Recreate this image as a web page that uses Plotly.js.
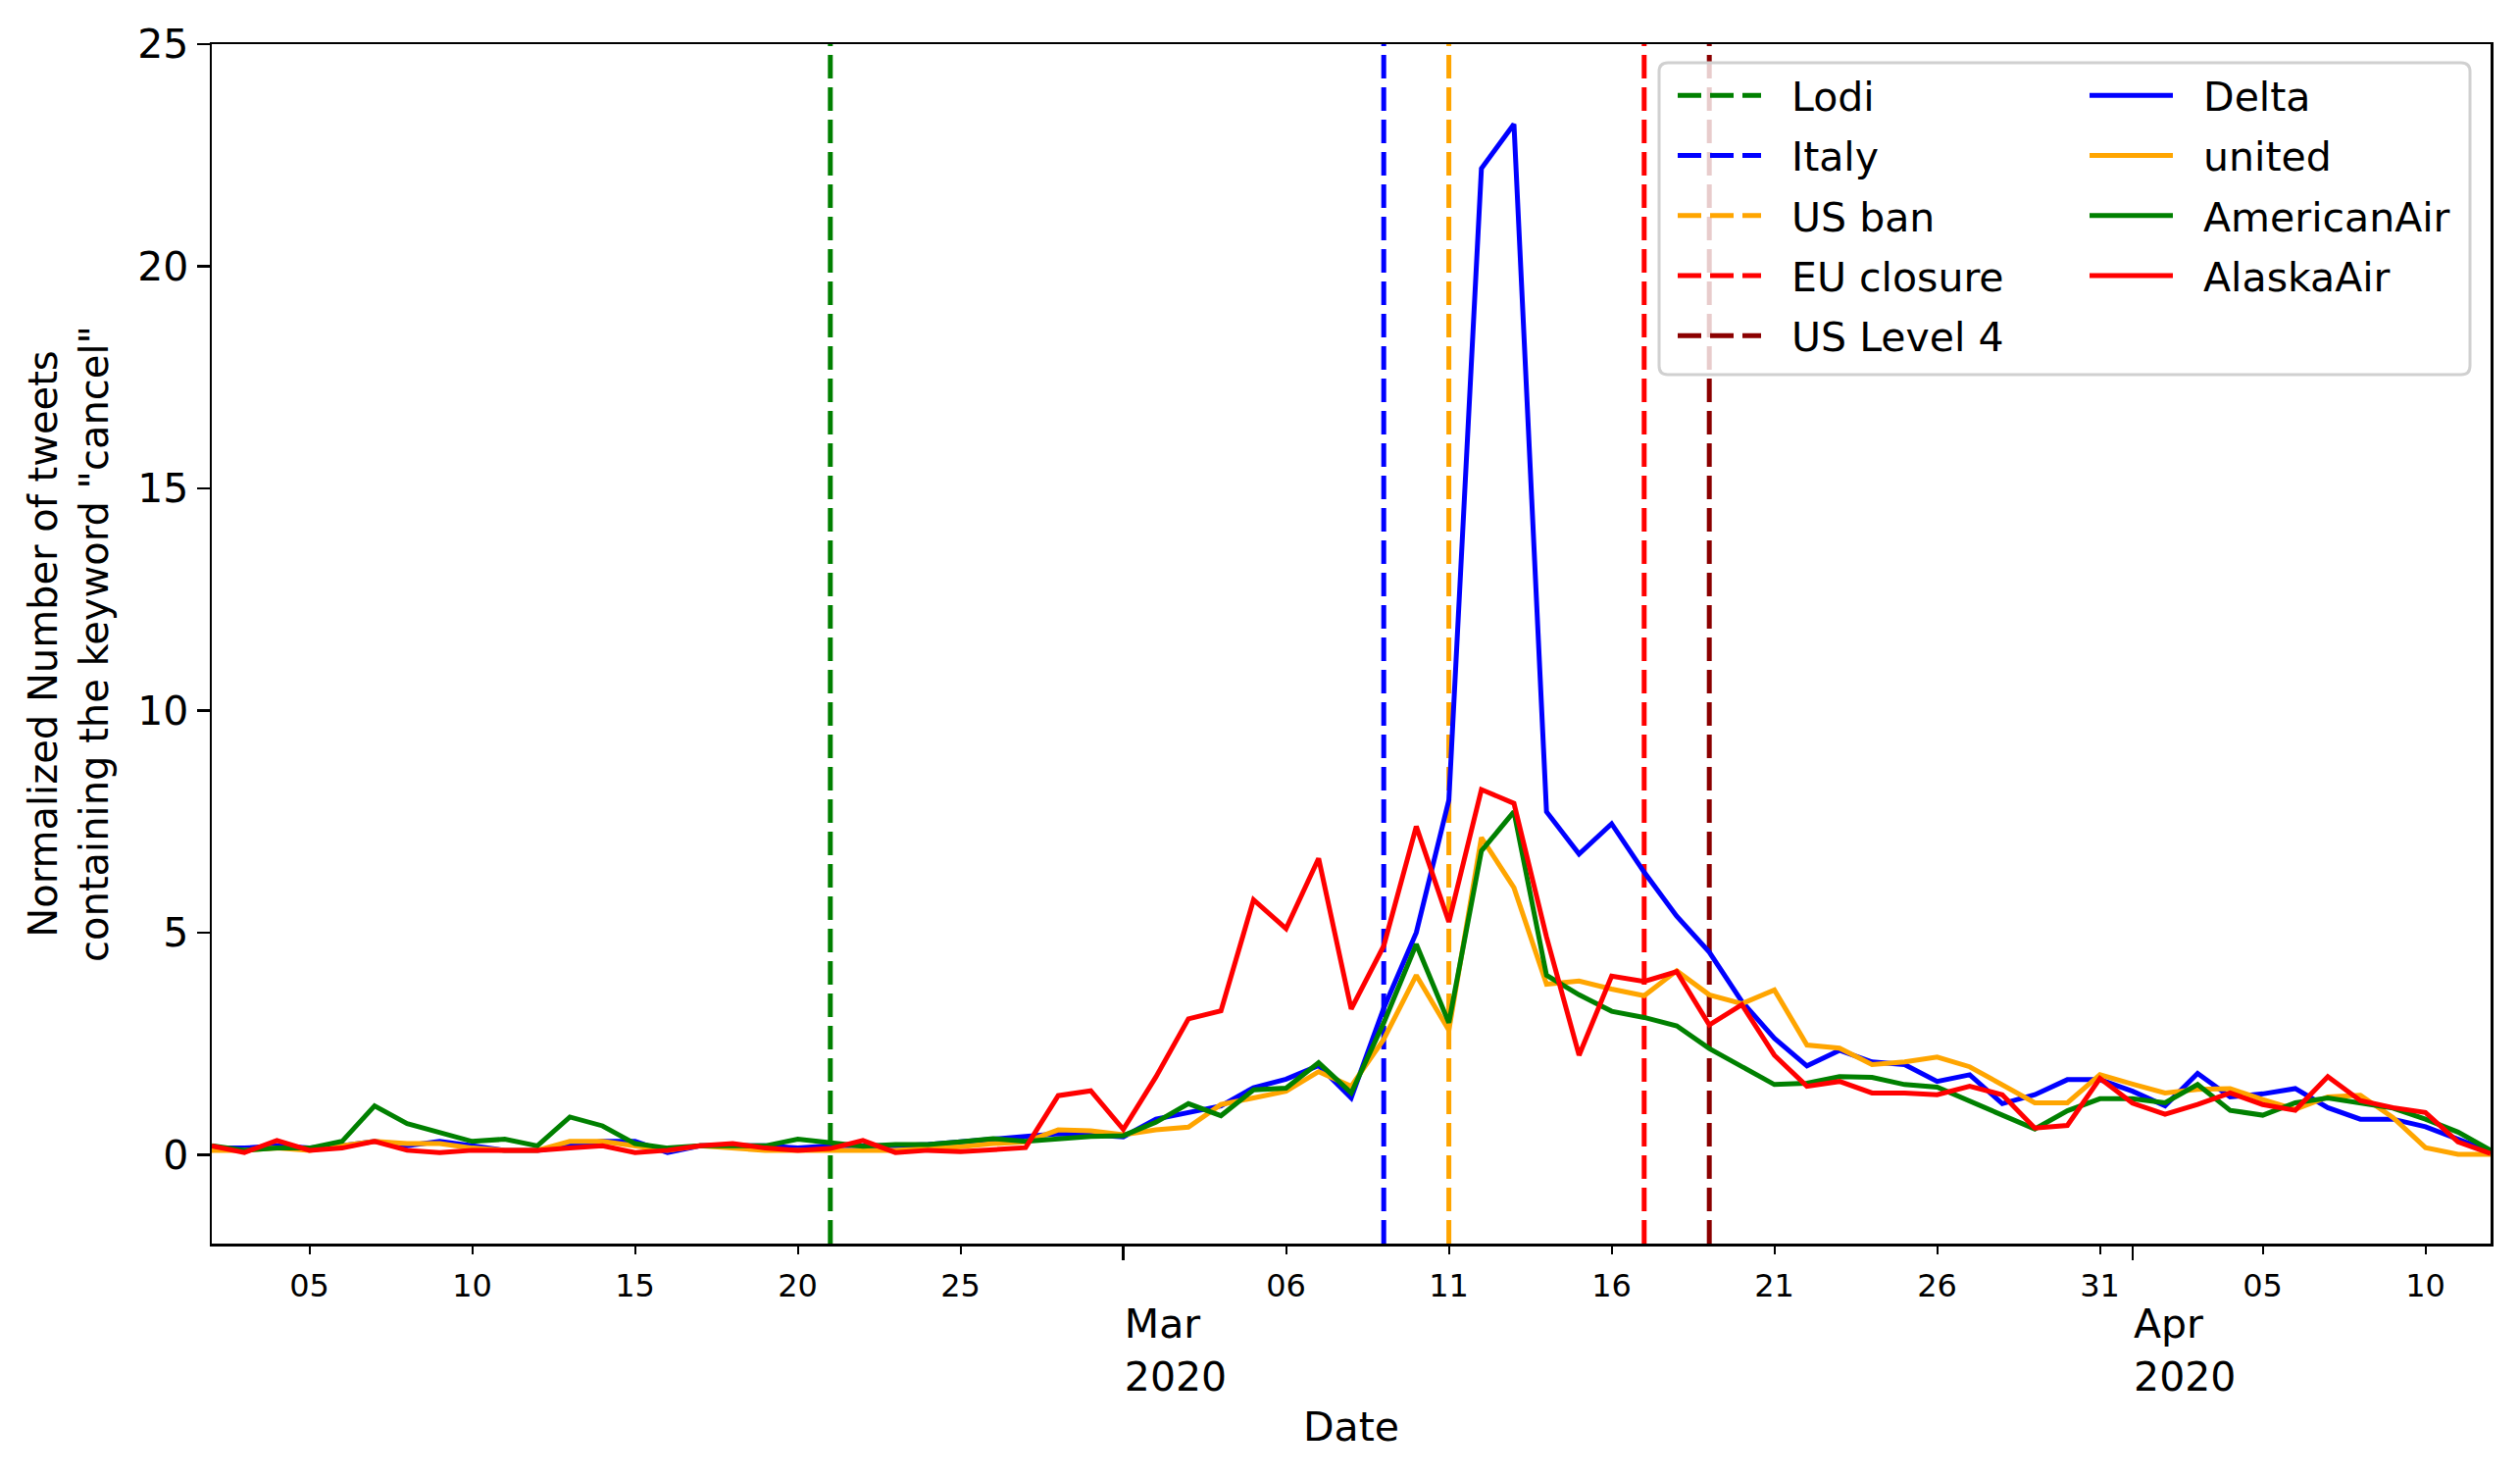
<!DOCTYPE html>
<html>
<head>
<meta charset="utf-8">
<script src="https://cdn.plot.ly/plotly-3.0.1.min.js"></script>
<style>
  html, body { margin: 0; padding: 0; background: #fff; }
  #chart { width: 2570px; height: 1506px; }
</style>
</head>
<body>
<div id="chart"></div>
<script>
// daily normalized counts, one value per day from startDate
const startDate = '2020-02-02';

const delta = [
  0.15, 0.15, 0.2, 0.15, 0.2, 0.3, 0.2, 0.3, 0.2, 0.1,
  0.1, 0.2, 0.3, 0.3, 0.05, 0.2, 0.2, 0.2, 0.15, 0.2,
  0.2, 0.2, 0.23, 0.28, 0.35, 0.41, 0.47, 0.45,
  0.4, 0.8, 0.95, 1.1, 1.51, 1.7, 2.01, 1.28, 3.3, 5.0,
  7.98, 22.2, 23.2, 7.72, 6.77, 7.45, 6.36, 5.37, 4.56, 3.45,
  2.62, 2.0, 2.35, 2.09, 2.03, 1.65, 1.8, 1.15, 1.35, 1.69, 1.69,
  1.43, 1.1, 1.83, 1.3, 1.37, 1.49, 1.06, 0.8, 0.8, 0.63, 0.36, 0.07
];
const united = [
  0.1, 0.1, 0.15, 0.1, 0.2, 0.3, 0.25, 0.25, 0.15, 0.1,
  0.1, 0.3, 0.3, 0.2, 0.1, 0.2, 0.15, 0.1, 0.1, 0.1,
  0.1, 0.1, 0.14, 0.18, 0.25, 0.29, 0.56, 0.54,
  0.45, 0.56, 0.62, 1.13, 1.28, 1.43, 1.87, 1.54, 2.6, 4.04,
  2.8, 7.14, 6.01, 3.84, 3.91, 3.73, 3.58, 4.14, 3.6, 3.4,
  3.71, 2.47, 2.4, 2.03, 2.09, 2.2, 1.98, 1.58, 1.17, 1.17, 1.8,
  1.59, 1.39, 1.47, 1.49, 1.24, 1.02, 1.3, 1.34, 0.84, 0.16, 0.01, 0.01
];
const americanAir = [
  0.2, 0.1, 0.15, 0.15, 0.3, 1.1, 0.7, 0.5, 0.3, 0.35,
  0.2, 0.85, 0.65, 0.25, 0.15, 0.2, 0.2, 0.2, 0.35, 0.28,
  0.19, 0.23, 0.23, 0.29, 0.36, 0.3, 0.36, 0.41,
  0.43, 0.73, 1.15, 0.88, 1.46, 1.5, 2.07, 1.39, 2.97, 4.74,
  2.97, 6.84, 7.72, 4.04, 3.6, 3.23, 3.09, 2.9, 2.39, 1.98,
  1.58, 1.61, 1.76, 1.74, 1.58, 1.52, 1.21, 0.91, 0.58, 0.99, 1.26,
  1.26, 1.17, 1.58, 1.0, 0.89, 1.17, 1.28, 1.16, 1.05, 0.8, 0.51, 0.1
];
const alaskaAir = [
  0.2, 0.05, 0.32, 0.1, 0.15, 0.3, 0.1, 0.05, 0.1, 0.1,
  0.1, 0.15, 0.2, 0.05, 0.1, 0.2, 0.25, 0.15, 0.1, 0.14,
  0.32, 0.05, 0.1, 0.07, 0.12, 0.16, 1.33, 1.44,
  0.57, 1.75, 3.06, 3.24, 5.74, 5.09, 6.67, 3.28, 4.7, 7.39,
  5.24, 8.22, 7.91, 4.9, 2.24, 4.02, 3.9, 4.12, 2.92, 3.38,
  2.24, 1.54, 1.65, 1.39, 1.39, 1.35, 1.54, 1.35, 0.6, 0.66, 1.72,
  1.16, 0.91, 1.13, 1.39, 1.13, 1.0, 1.76, 1.22, 1.06, 0.95, 0.29, 0.03
];

const seriesNames = ['Delta', 'united', 'AmericanAir', 'AlaskaAir'];
const seriesValues = [delta, united, americanAir, alaskaAir];
const seriesColors = ['#0000ff', '#ffa500', '#008000', '#ff0000'];

// events shown as dashed vertical lines
const eventNames = ['Lodi', 'Italy', 'US ban', 'EU closure', 'US Level 4'];
const eventDates = ['2020-02-21', '2020-03-09', '2020-03-11', '2020-03-17', '2020-03-19'];
const eventColors = ['#008000', '#0000ff', '#ffa500', '#ff0000', '#8b0000'];

// tick labels
const minorTickDates = ['2020-02-05', '2020-02-10', '2020-02-15', '2020-02-20', '2020-02-25',
  '2020-03-06', '2020-03-11', '2020-03-16', '2020-03-21', '2020-03-26', '2020-03-31',
  '2020-04-05', '2020-04-10'];
const minorTickText = ['05', '10', '15', '20', '25', '06', '11', '16', '21', '26', '31', '05', '10'];
const majorTickDates = ['2020-03-01', '2020-04-01'];
const majorTickText = ['Mar<br>2020', 'Apr<br>2020'];
const yTicks = [0, 5, 10, 15, 20, 25];

const xRange = ['2020-02-02', '2020-04-12'];
const yRange = [-2, 25];

function dayList(start, n) {
  const out = [];
  const d0 = new Date(start + 'T00:00:00Z');
  for (let i = 0; i < n; i++) {
    const d = new Date(d0.getTime() + i * 86400000);
    out.push(d.toISOString().slice(0, 10));
  }
  return out;
}
const days = dayList(startDate, delta.length);

// plot area in pixels, used for legend frame placement
const W = 2570, H = 1506;
const M = { l: 216, r: 30, t: 45, b: 238 };
const pw = W - M.l - M.r, ph = H - M.t - M.b;
const px = x => (x - M.l) / pw;
const py = y => (M.t + ph - y) / ph;

const FONT = 'DejaVu Sans, sans-serif';
const FS = 41;
const GAP = '\u00A0\u00A0'; // extra room between legend handle and label

let traces = [];

eventNames.forEach((name, i) => {
  traces.push({
    x: [eventDates[i], eventDates[i]],
    y: yRange,
    name: GAP + name,
    mode: 'lines',
    line: { color: eventColors[i], width: 5, dash: '24px,9px' },
    legend: 'legend',
    legendgroup: 'ev' + i,
    hoverinfo: 'skip'
  });
});

seriesNames.forEach((name, i) => {
  traces.push({
    x: days,
    y: seriesValues[i],
    name: GAP + name,
    mode: 'lines',
    line: { color: seriesColors[i], width: 5 },
    legend: 'legend2',
    legendgroup: 'se' + i
  });
});

// carrier for the month ticks axis
traces.push({
  x: days,
  y: delta,
  xaxis: 'x2',
  mode: 'lines',
  line: { color: 'rgba(0,0,0,0)', width: 0 },
  showlegend: false,
  hoverinfo: 'skip'
});

// legend frame (rounded, semi transparent like matplotlib)
const fx0 = px(1692), fx1 = px(2519), fy0 = py(382), fy1 = py(64);
const rx = 9 / pw, ry = 9 / ph;
const framePath = 'M' + (fx0 + rx) + ',' + fy1 + ' L' + (fx1 - rx) + ',' + fy1 +
  ' Q' + fx1 + ',' + fy1 + ' ' + fx1 + ',' + (fy1 - ry) +
  ' L' + fx1 + ',' + (fy0 + ry) +
  ' Q' + fx1 + ',' + fy0 + ' ' + (fx1 - rx) + ',' + fy0 +
  ' L' + (fx0 + rx) + ',' + fy0 +
  ' Q' + fx0 + ',' + fy0 + ' ' + fx0 + ',' + (fy0 + ry) +
  ' L' + fx0 + ',' + (fy1 - ry) +
  ' Q' + fx0 + ',' + fy1 + ' ' + (fx0 + rx) + ',' + fy1 + ' Z';

const legendBase = {
  yanchor: 'top',
  xanchor: 'left',
  bgcolor: 'rgba(0,0,0,0)',
  borderwidth: 0,
  font: { family: FONT, size: FS, color: '#000' },
  itemwidth: 85,
  traceorder: 'grouped',
  tracegroupgap: 5
};

let layout = {
  width: W,
  height: H,
  margin: M,
  paper_bgcolor: '#fff',
  plot_bgcolor: '#fff',
  font: { family: FONT, size: FS, color: '#000' },
  showlegend: true,
  legend: Object.assign({}, legendBase, { x: px(1706), y: py(64) }),
  legend2: Object.assign({}, legendBase, { x: px(2126), y: py(64) }),
  xaxis: {
    type: 'date',
    range: xRange,
    tickmode: 'array',
    tickvals: minorTickDates,
    ticktext: minorTickText,
    ticks: 'outside',
    ticklen: 8,
    tickwidth: 2,
    tickcolor: '#000',
    ticklabelstandoff: 5,
    tickfont: { family: FONT, size: 32 },
    showgrid: false,
    zeroline: false,
    showline: true,
    mirror: true,
    linecolor: '#000',
    linewidth: 2.5,
    title: { text: 'Date', font: { family: FONT, size: FS }, standoff: 112 }
  },
  xaxis2: {
    type: 'date',
    overlaying: 'x',
    matches: 'x',
    side: 'bottom',
    anchor: 'y',
    range: xRange,
    tickmode: 'array',
    tickvals: majorTickDates,
    ticktext: majorTickText,
    ticks: 'outside',
    ticklen: 16,
    tickwidth: 2.5,
    tickcolor: '#000',
    ticklabelposition: 'outside right',
    ticklabelstandoff: 46,
    tickfont: { family: FONT, size: FS },
    showgrid: false,
    zeroline: false,
    showline: false
  },
  yaxis: {
    range: yRange,
    tickmode: 'array',
    tickvals: yTicks,
    ticks: 'outside',
    ticklen: 13,
    tickwidth: 2.5,
    tickcolor: '#000',
    tickfont: { family: FONT, size: FS },
    showgrid: false,
    zeroline: false,
    showline: true,
    mirror: true,
    linecolor: '#000',
    linewidth: 2.5,
    title: {
      text: 'Normalized Number of tweets<br>containing the keyword "cancel"',
      font: { family: FONT, size: 40 },
      standoff: 17
    }
  },
  shapes: [{
    type: 'path',
    xref: 'paper',
    yref: 'paper',
    path: framePath,
    fillcolor: 'rgba(255,255,255,0.8)',
    line: { color: '#d0d0d0', width: 3 },
    layer: 'above'
  }]
};

Plotly.newPlot('chart', traces, layout, { displayModeBar: false, staticPlot: true });
</script>
</body>
</html>
